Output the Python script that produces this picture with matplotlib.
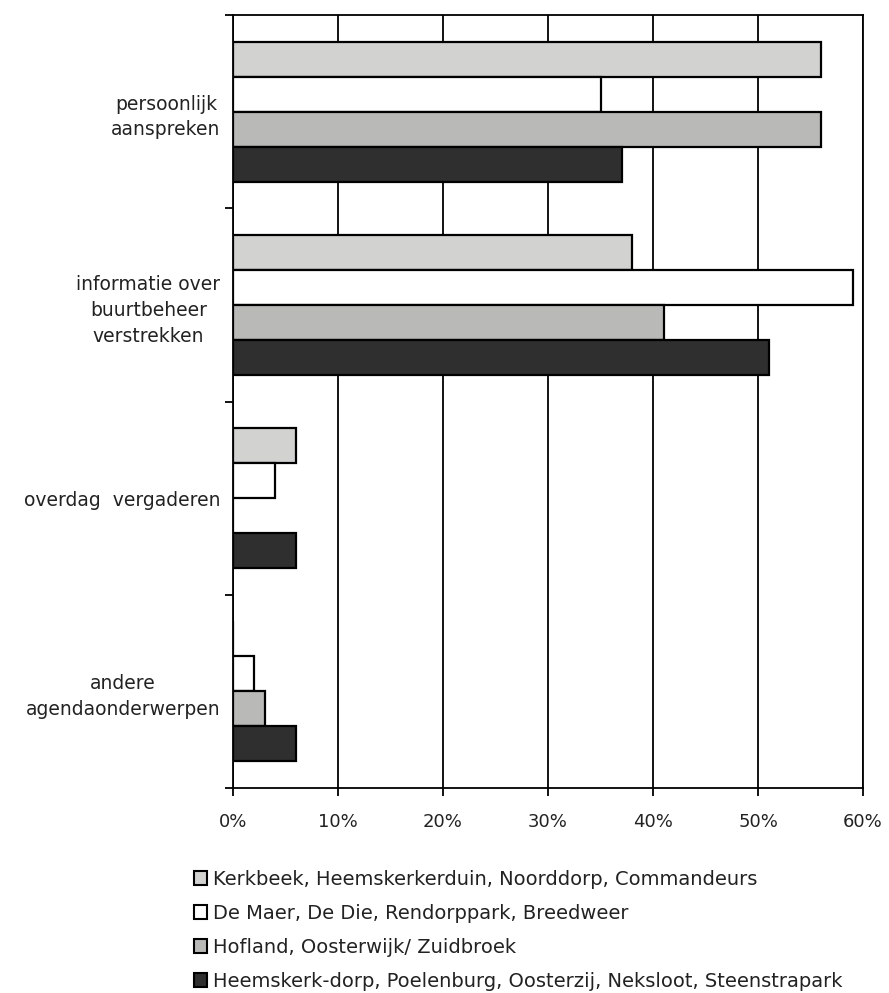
import numpy as np
import matplotlib.pyplot as plt
from matplotlib.patches import Patch

categories = ["persoonlijk\naanspreken",
              "informatie over\nbuurtbeheer\nverstrekken",
              "overdag  vergaderen",
              "andere\nagendaonderwerpen"]
series = ["Kerkbeek, Heemskerkerduin, Noorddorp, Commandeurs",
          "De Maer, De Die, Rendorppark, Breedweer",
          "Hofland, Oosterwijk/ Zuidbroek",
          "Heemskerk-dorp, Poelenburg, Oosterzij, Neksloot, Steenstrapark"]
values = [
    [56, 38, 6, 0],   # Kerkbeek ...
    [35, 59, 4, 2],   # De Maer ...
    [56, 41, 0, 3],   # Hofland ...
    [37, 51, 6, 6],   # Heemskerk-dorp ...
]
colors = ["#d2d2d0", "#ffffff", "#b9b9b7", "#2f2f2f"]
xticks = [0, 10, 20, 30, 40, 50, 60]

plt.rcParams['font.family'] = ['DejaVu Sans']
fig = plt.figure(figsize=(8.89, 9.93), dpi=100)
ax = fig.add_axes([233/889, 1-788/993, (863-233)/889, (788-15)/993])

h = 0.181
pos = np.arange(len(categories))
for i, (vals, col) in enumerate(zip(values, colors)):
    ax.barh(pos + (i - 1.5) * h, vals, height=h, color=col,
            edgecolor="black", linewidth=1.6, zorder=3)

ax.set_xlim(0, 60)
ax.set_ylim(3.5, -0.5)
ax.set_xticks(xticks, [f"{t}%" for t in xticks], fontsize=13, color="#222222")
ax.grid(axis="x", color="black", linewidth=1.3, zorder=0)
ax.set_axisbelow(True)

ax.set_yticks(pos, categories, fontsize=13.5, ma="center", linespacing=1.45,
              color="#222222")
ax.tick_params(axis="y", length=0, pad=9)
ax.set_yticks([-0.5, 0.5, 1.5, 2.5, 3.5], minor=True)
ax.tick_params(axis="y", which="minor", length=6, width=1.3, direction="out")
ax.tick_params(axis="x", length=6, width=1.3, direction="out", pad=12)
for s in ax.spines.values():
    s.set_linewidth(1.3)
    s.set_color("black")

handles = [Patch(facecolor=c, edgecolor="black", linewidth=1.5) for c in colors]
leg = fig.legend(handles, series, loc="upper left",
                 bbox_to_anchor=(186/889, 1-862/993), frameon=False,
                 fontsize=14, handlelength=0.7, handleheight=0.7,
                 handletextpad=0.3, labelspacing=0.77, borderaxespad=0)
for t in leg.get_texts():
    t.set_color("#222222")

fig.savefig("out.png", dpi=100, facecolor="white")
